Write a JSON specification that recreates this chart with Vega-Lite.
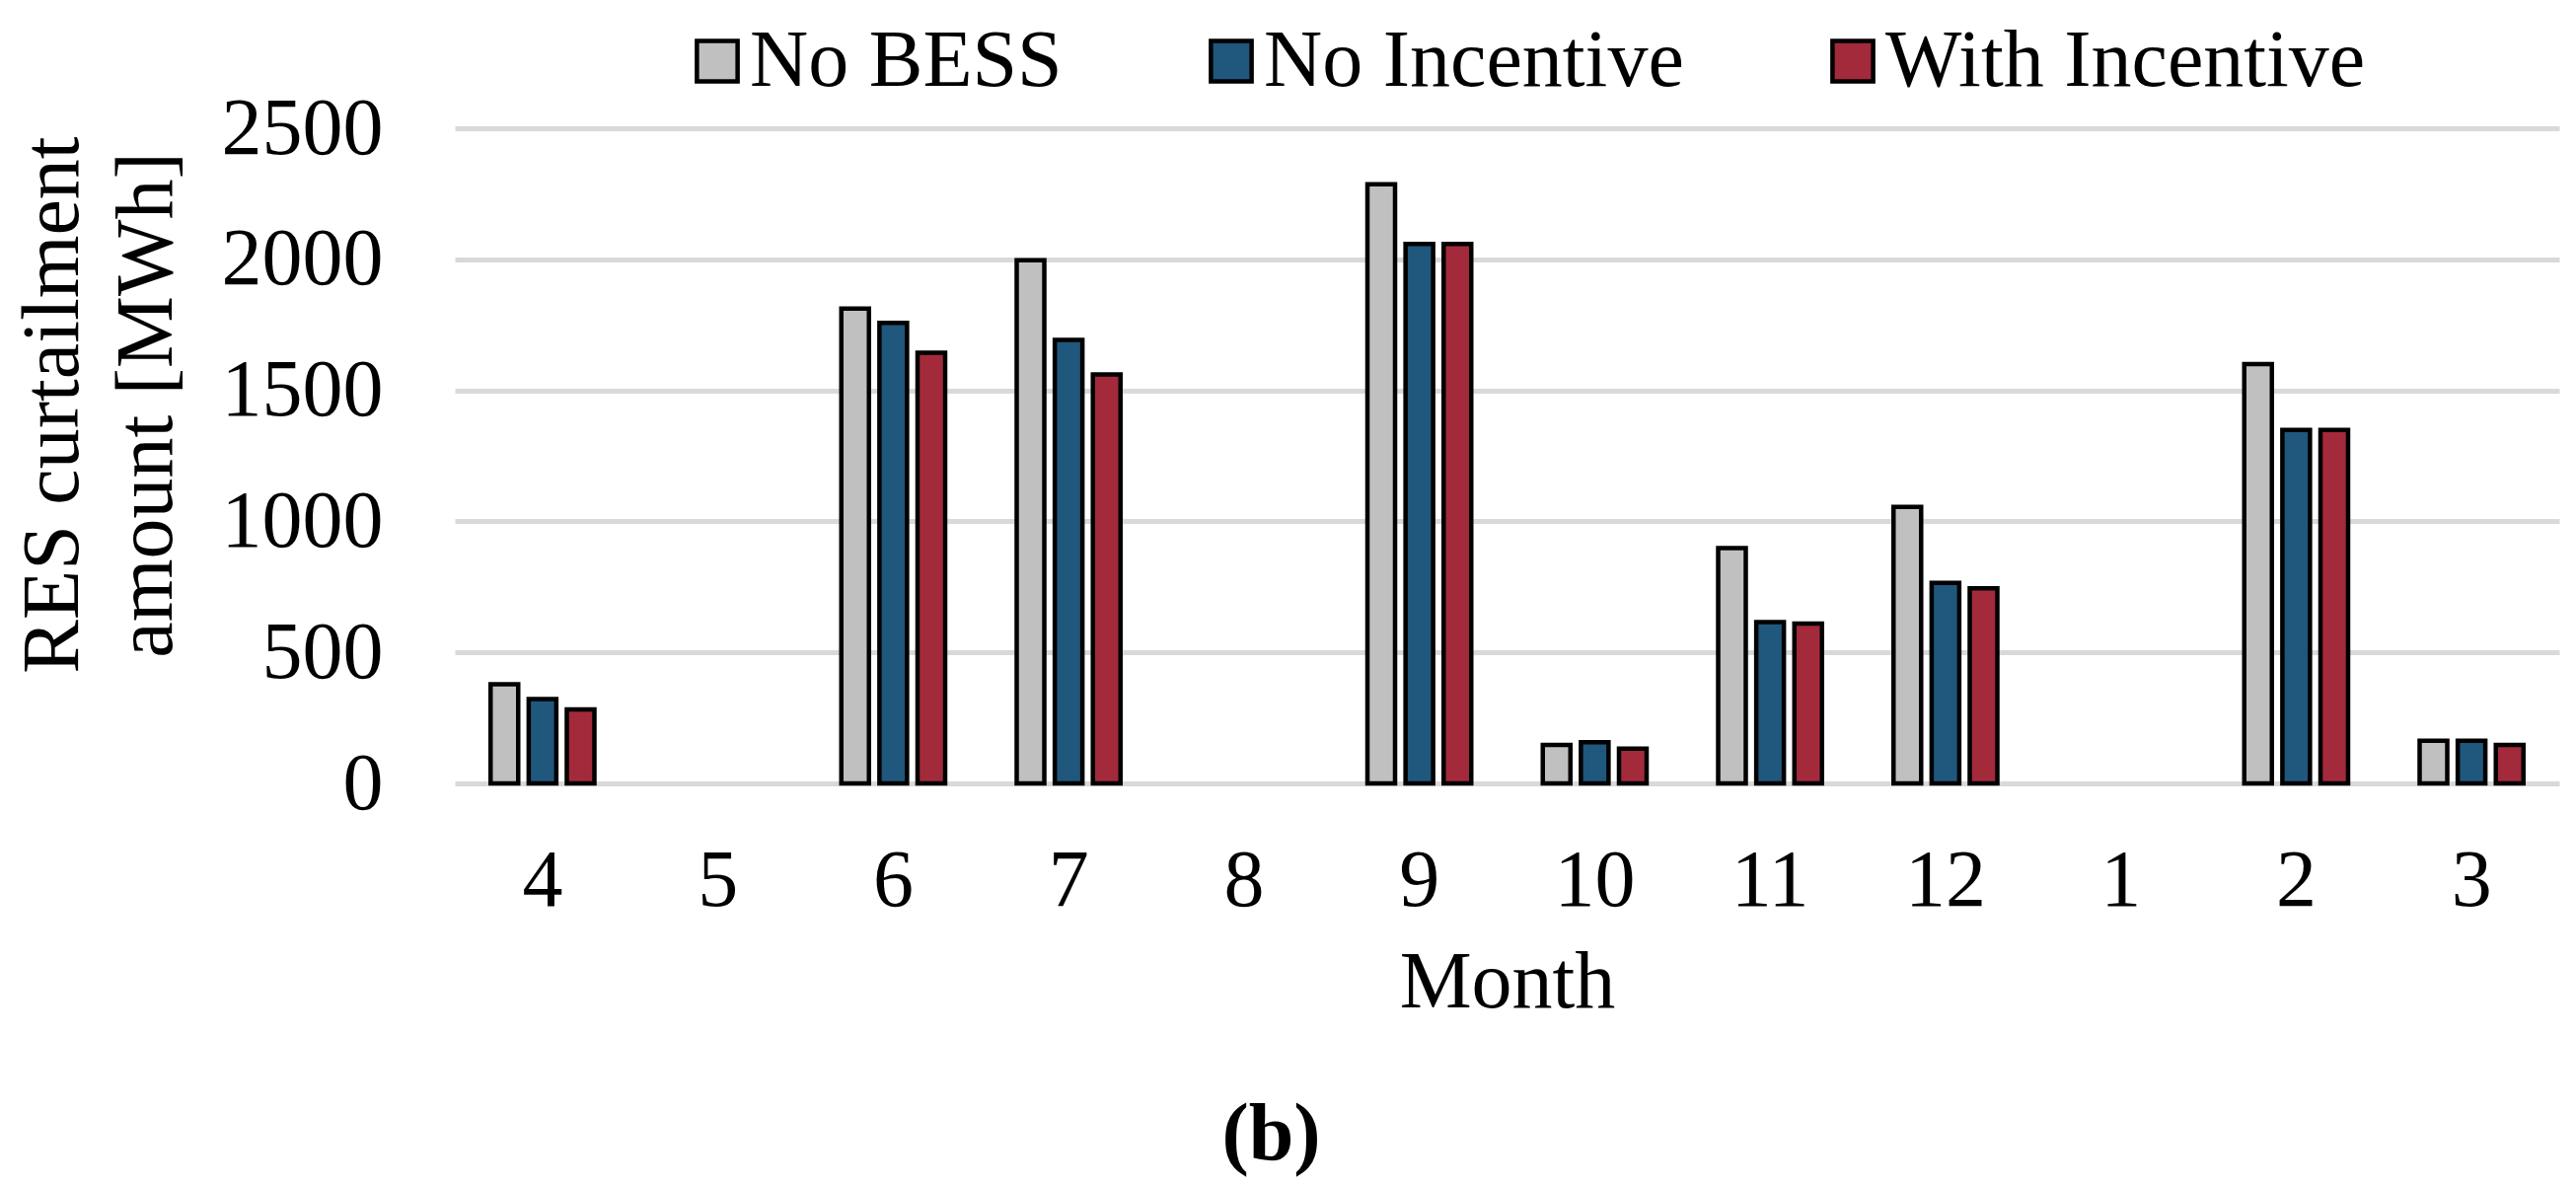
{
  "$schema": "https://vega.github.io/schema/vega-lite/v6.json",
  "width": 2133,
  "height": 664,
  "autosize": "none",
  "padding": {"left": 461, "top": 130, "right": 17, "bottom": 406},
  "background": "white",
  "title": {
    "text": "(b)",
    "orient": "bottom",
    "anchor": "middle",
    "dx": -239,
    "offset": 74,
    "font": "Liberation Serif",
    "fontSize": 82,
    "fontWeight": "bold",
    "color": "black"
  },
  "data": {
    "values": [
      {"month": "4", "scenario": "No BESS", "value": 378},
      {"month": "4", "scenario": "No Incentive", "value": 322},
      {"month": "4", "scenario": "With Incentive", "value": 282},
      {"month": "5", "scenario": "No BESS", "value": 0},
      {"month": "5", "scenario": "No Incentive", "value": 0},
      {"month": "5", "scenario": "With Incentive", "value": 0},
      {"month": "6", "scenario": "No BESS", "value": 1812},
      {"month": "6", "scenario": "No Incentive", "value": 1757},
      {"month": "6", "scenario": "With Incentive", "value": 1643},
      {"month": "7", "scenario": "No BESS", "value": 1996},
      {"month": "7", "scenario": "No Incentive", "value": 1692},
      {"month": "7", "scenario": "With Incentive", "value": 1561},
      {"month": "8", "scenario": "No BESS", "value": 0},
      {"month": "8", "scenario": "No Incentive", "value": 0},
      {"month": "8", "scenario": "With Incentive", "value": 0},
      {"month": "9", "scenario": "No BESS", "value": 2286},
      {"month": "9", "scenario": "No Incentive", "value": 2059},
      {"month": "9", "scenario": "With Incentive", "value": 2059},
      {"month": "10", "scenario": "No BESS", "value": 147},
      {"month": "10", "scenario": "No Incentive", "value": 157},
      {"month": "10", "scenario": "With Incentive", "value": 133},
      {"month": "11", "scenario": "No BESS", "value": 898},
      {"month": "11", "scenario": "No Incentive", "value": 616},
      {"month": "11", "scenario": "With Incentive", "value": 610},
      {"month": "12", "scenario": "No BESS", "value": 1055},
      {"month": "12", "scenario": "No Incentive", "value": 765},
      {"month": "12", "scenario": "With Incentive", "value": 745},
      {"month": "1", "scenario": "No BESS", "value": 0},
      {"month": "1", "scenario": "No Incentive", "value": 0},
      {"month": "1", "scenario": "With Incentive", "value": 0},
      {"month": "2", "scenario": "No BESS", "value": 1600},
      {"month": "2", "scenario": "No Incentive", "value": 1349},
      {"month": "2", "scenario": "With Incentive", "value": 1349},
      {"month": "3", "scenario": "No BESS", "value": 163},
      {"month": "3", "scenario": "No Incentive", "value": 163},
      {"month": "3", "scenario": "With Incentive", "value": 147}
    ]
  },
  "transform": [{"filter": "datum.value > 0"}],
  "mark": {"type": "bar", "stroke": "black", "strokeWidth": 4.5},
  "encoding": {
    "x": {
      "field": "month",
      "type": "nominal",
      "sort": ["4", "5", "6", "7", "8", "9", "10", "11", "12", "1", "2", "3"],
      "scale": {
        "domain": ["4", "5", "6", "7", "8", "9", "10", "11", "12", "1", "2", "3"],
        "paddingInner": 0.408,
        "paddingOuter": 0.204
      },
      "axis": {
        "title": "Month",
        "labelAngle": 0,
        "ticks": false,
        "domain": false,
        "labelPadding": 58,
        "titlePadding": 22
      }
    },
    "xOffset": {
      "field": "scenario",
      "type": "nominal",
      "scale": {"paddingInner": 0.275, "paddingOuter": 0}
    },
    "y": {
      "field": "value",
      "type": "quantitative",
      "scale": {"domain": [0, 2500], "nice": false},
      "axis": {
        "title": ["RES curtailment", "amount [MWh]"],
        "values": [0, 500, 1000, 1500, 2000, 2500],
        "format": "d",
        "labelLimit": 400,
        "ticks": false,
        "domain": false,
        "labelPadding": 73,
        "titleAngle": -90,
        "titleAlign": "center",
        "titleBaseline": "alphabetic",
        "titleX": -383,
        "titleY": 280,
        "titleLineHeight": 95
      }
    },
    "color": {
      "field": "scenario",
      "type": "nominal",
      "title": null,
      "scale": {
        "domain": ["No BESS", "No Incentive", "With Incentive"],
        "range": ["#c0c0c0", "#1f577d", "#a22a3b"]
      },
      "legend": {
        "orient": "none",
        "direction": "horizontal",
        "legendX": 225,
        "legendY": -109,
        "symbolType": "square",
        "symbolSize": 1700,
        "symbolStrokeColor": "black",
        "symbolStrokeWidth": 4.5,
        "symbolOpacity": 1,
        "labelFont": "Liberation Serif",
        "labelFontSize": 82,
        "labelColor": "black",
        "labelOffset": -8,
        "columnPadding": 130,
        "labelLimit": 1000
      }
    }
  },
  "config": {
    "view": {"stroke": null},
    "axis": {
      "labelFont": "Liberation Serif",
      "labelFontSize": 82,
      "labelColor": "black",
      "titleFont": "Liberation Serif",
      "titleFontSize": 82,
      "titleFontWeight": "normal",
      "titleColor": "black",
      "gridColor": "#d9d9d9",
      "gridWidth": 5
    },
    "axisX": {"grid": false},
    "axisY": {"grid": true}
  }
}
